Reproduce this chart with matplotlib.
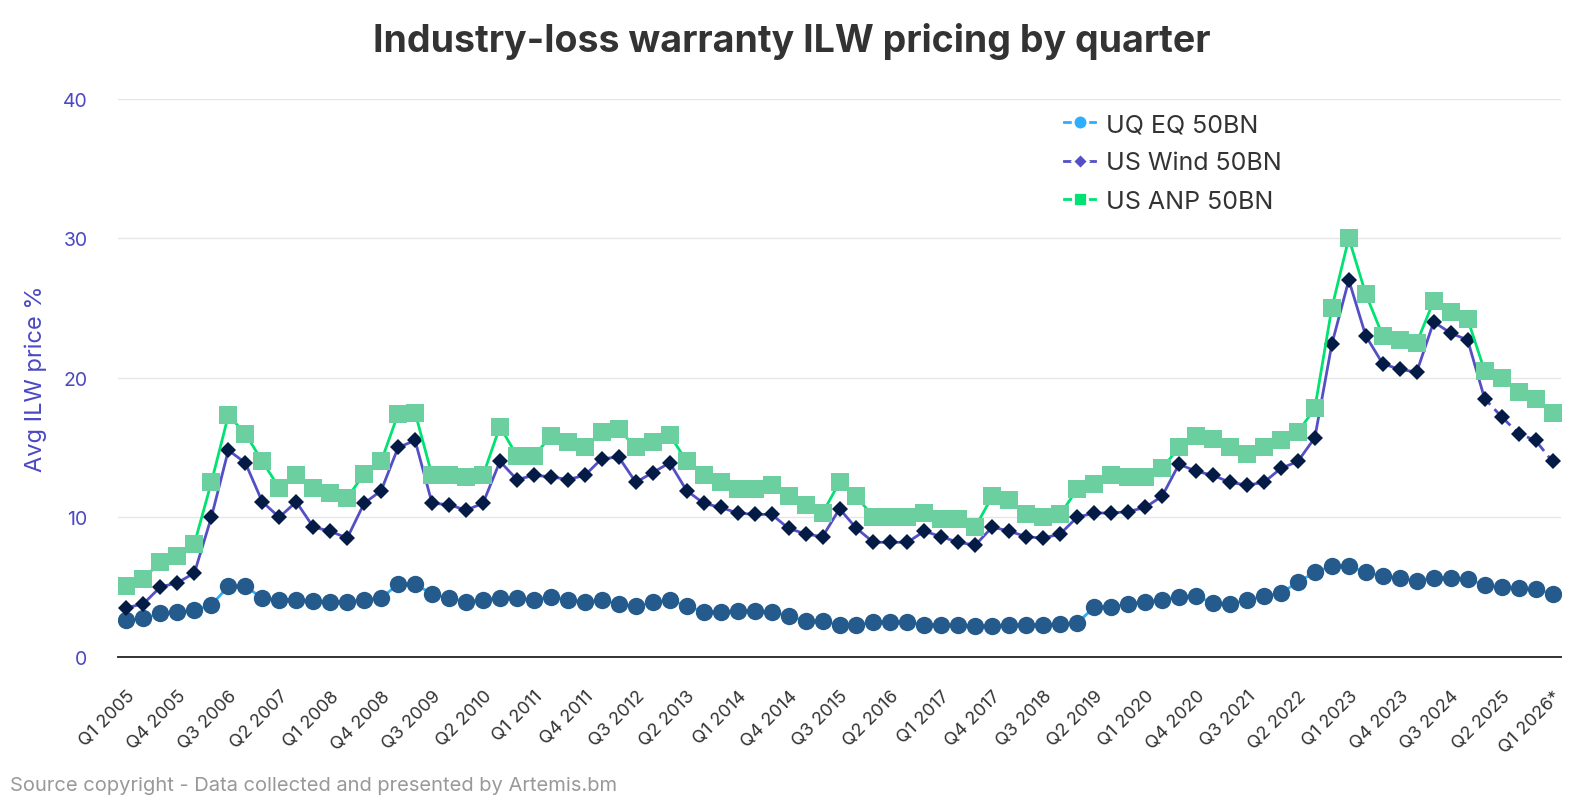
import matplotlib
matplotlib.use("Agg")
import matplotlib.pyplot as plt
from matplotlib.lines import Line2D
import numpy as np

plt.rcParams['font.family'] = ['Inter', 'DejaVu Sans']

quarters = []
for y in range(2005, 2027):
    for q in range(1, 5):
        quarters.append(f"Q{q} {y}")
quarters = quarters[:85]
quarters[-1] = "Q1 2026*"

eq_50bn = [2.6, 2.75, 3.1, 3.2, 3.35, 3.7, 5.05, 5.05, 4.2, 4.1,
           4.1, 4.0, 3.95, 3.95, 4.1, 4.2, 5.2, 5.2, 4.5, 4.2,
           3.95, 4.1, 4.2, 4.2, 4.1, 4.3, 4.1, 3.95, 4.05, 3.8,
           3.6, 3.9, 4.05, 3.65, 3.2, 3.2, 3.3, 3.3, 3.2, 2.95,
           2.55, 2.55, 2.3, 2.3, 2.5, 2.5, 2.5, 2.3, 2.3, 2.3,
           2.2, 2.2, 2.3, 2.3, 2.3, 2.35, 2.4, 3.55, 3.55, 3.8,
           3.95, 4.1, 4.3, 4.35, 3.85, 3.8, 4.05, 4.35, 4.55, 5.35,
           6.05, 6.5, 6.5, 6.05, 5.8, 5.65, 5.45, 5.65, 5.65, 5.55,
           5.15, 5.0, 4.9, 4.85, 4.5]

wind_50bn = [3.5, 3.8, 5.0, 5.3, 6.0, 10.0, 14.8, 13.9, 11.1, 10.0,
             11.1, 9.3, 9.0, 8.5, 11.0, 11.9, 15.0, 15.5, 11.0, 10.9,
             10.5, 11.0, 14.0, 12.7, 13.0, 12.9, 12.7, 13.0, 14.2, 14.3,
             12.5, 13.2, 13.9, 11.9, 11.0, 10.7, 10.3, 10.2, 10.2, 9.2,
             8.8, 8.6, 10.6, 9.2, 8.2, 8.2, 8.2, 9.0, 8.6, 8.2,
             8.0, 9.3, 9.0, 8.6, 8.5, 8.8, 10.0, 10.3, 10.3, 10.4,
             10.7, 11.5, 13.8, 13.3, 13.0, 12.5, 12.3, 12.5, 13.5, 14.0,
             15.7, 22.4, 27.0, 23.0, 21.0, 20.6, 20.4, 24.0, 23.2, 22.7,
             18.5, 17.2, 16.0, 15.5, 14.0]

anp_50bn = [5.1, 5.6, 6.8, 7.2, 8.1, 12.5, 17.3, 16.0, 14.0, 12.1,
            13.0, 12.1, 11.7, 11.4, 13.1, 14.0, 17.4, 17.5, 13.0, 13.0,
            12.9, 13.0, 16.5, 14.4, 14.4, 15.8, 15.4, 15.0, 16.1, 16.3,
            15.0, 15.4, 15.9, 14.0, 13.0, 12.5, 12.0, 12.0, 12.3, 11.5,
            10.9, 10.3, 12.5, 11.5, 10.0, 10.0, 10.0, 10.3, 9.9, 9.9,
            9.3, 11.5, 11.2, 10.2, 10.0, 10.2, 12.0, 12.4, 13.0, 12.9,
            12.9, 13.5, 15.0, 15.8, 15.6, 15.0, 14.5, 15.0, 15.5, 16.1,
            17.8, 25.0, 30.0, 26.0, 23.0, 22.7, 22.5, 25.5, 24.7, 24.2,
            20.5, 20.0, 19.0, 18.5, 17.5]

series_names = ["UQ EQ 50BN", "US Wind 50BN", "US ANP 50BN"]
estimate_start = 80  # index from which lines are dashed

W, H = 1584, 804
fig = plt.figure(figsize=(W / 100, H / 100), dpi=100)
left, right, top, bottom = 118, 1561, 99.7, 657.7
ax = fig.add_axes([left / W, 1 - bottom / H, (right - left) / W, (bottom - top) / H])

x = np.arange(len(quarters))

styles = [
    dict(data=eq_50bn, line='#2caffe', mfc='#245b8c', marker='o', ms=12.5, lms=10.6),
    dict(data=wind_50bn, line='#544fc5', mfc='#041b45', marker='D', ms=8.6, lms=8.1),
    dict(data=anp_50bn, line='#00e272', mfc='#6ccfa0', marker='s', ms=12.5, lms=10.6),
]

z = 3
for st in styles:
    d = np.array(st['data'])
    ax.plot(x[:estimate_start + 1], d[:estimate_start + 1], color=st['line'], lw=2.0,
            zorder=z, solid_capstyle='round', solid_joinstyle='round')
    ax.plot(x[estimate_start:], d[estimate_start:], color=st['line'], lw=2.0,
            linestyle=(0, (3, 2.2)), zorder=z)
    ax.plot(x, d, linestyle='none', marker=st['marker'], ms=st['ms'],
            mfc=st['mfc'], mec='none', mew=0, zorder=z + 0.5)
    z += 1

ax.set_xlim(-0.5, len(quarters) - 0.5)
ax.set_ylim(0, 40)
ax.set_yticks([0, 10, 20, 30, 40])
ax.yaxis.grid(True, color='#e6e6e6', lw=1.0)
ax.set_axisbelow(True)
for s in ['top', 'right', 'left']:
    ax.spines[s].set_visible(False)
ax.spines['bottom'].set_color('#333333')
ax.spines['bottom'].set_linewidth(1.4)
ax.spines['bottom'].set_zorder(2.5)

tick_idx = list(range(0, len(quarters), 3))
ax.set_xticks(tick_idx)
ax.set_xticklabels([quarters[i] for i in tick_idx], rotation=45, ha='right', va='top',
                   rotation_mode='anchor', fontsize=13, color='#333333')
ax.tick_params(axis='x', length=0, pad=22)
ax.tick_params(axis='y', length=0, pad=22, labelsize=14, labelcolor='#4b48c2')

ax.set_ylabel('Avg ILW price %', fontsize=17, color='#4b48c2')
ax.yaxis.set_label_coords((47 - left) / (right - left), 0.5)

fig.text(0.5, 1 - 41.5 / H, 'Industry-loss warranty ILW pricing by quarter',
         ha='center', va='center', fontsize=27, fontweight='bold', color='#333333')

fig.text(10 / W, 1 - 786 / H, 'Source copyright - Data collected and presented by Artemis.bm',
         ha='left', va='center', fontsize=14.5, color='#999999')

handles = []
for st, name in zip(styles, series_names):
    handles.append(Line2D([0], [0], color=st['line'], lw=2.0, marker=st['marker'],
                          ms=st['lms'], mfc=st['line'], mec='white', mew=2.0, label=name))
leg = fig.legend(handles=handles, loc='upper left', bbox_to_anchor=(1064 / W, 1 - 114 / H),
                 frameon=False, fontsize=18, handlelength=1.25, handletextpad=0.45,
                 labelspacing=0.62, borderpad=0, borderaxespad=0)
for t in leg.get_texts():
    t.set_color('#333333')

fig.savefig('out.png', dpi=100)
